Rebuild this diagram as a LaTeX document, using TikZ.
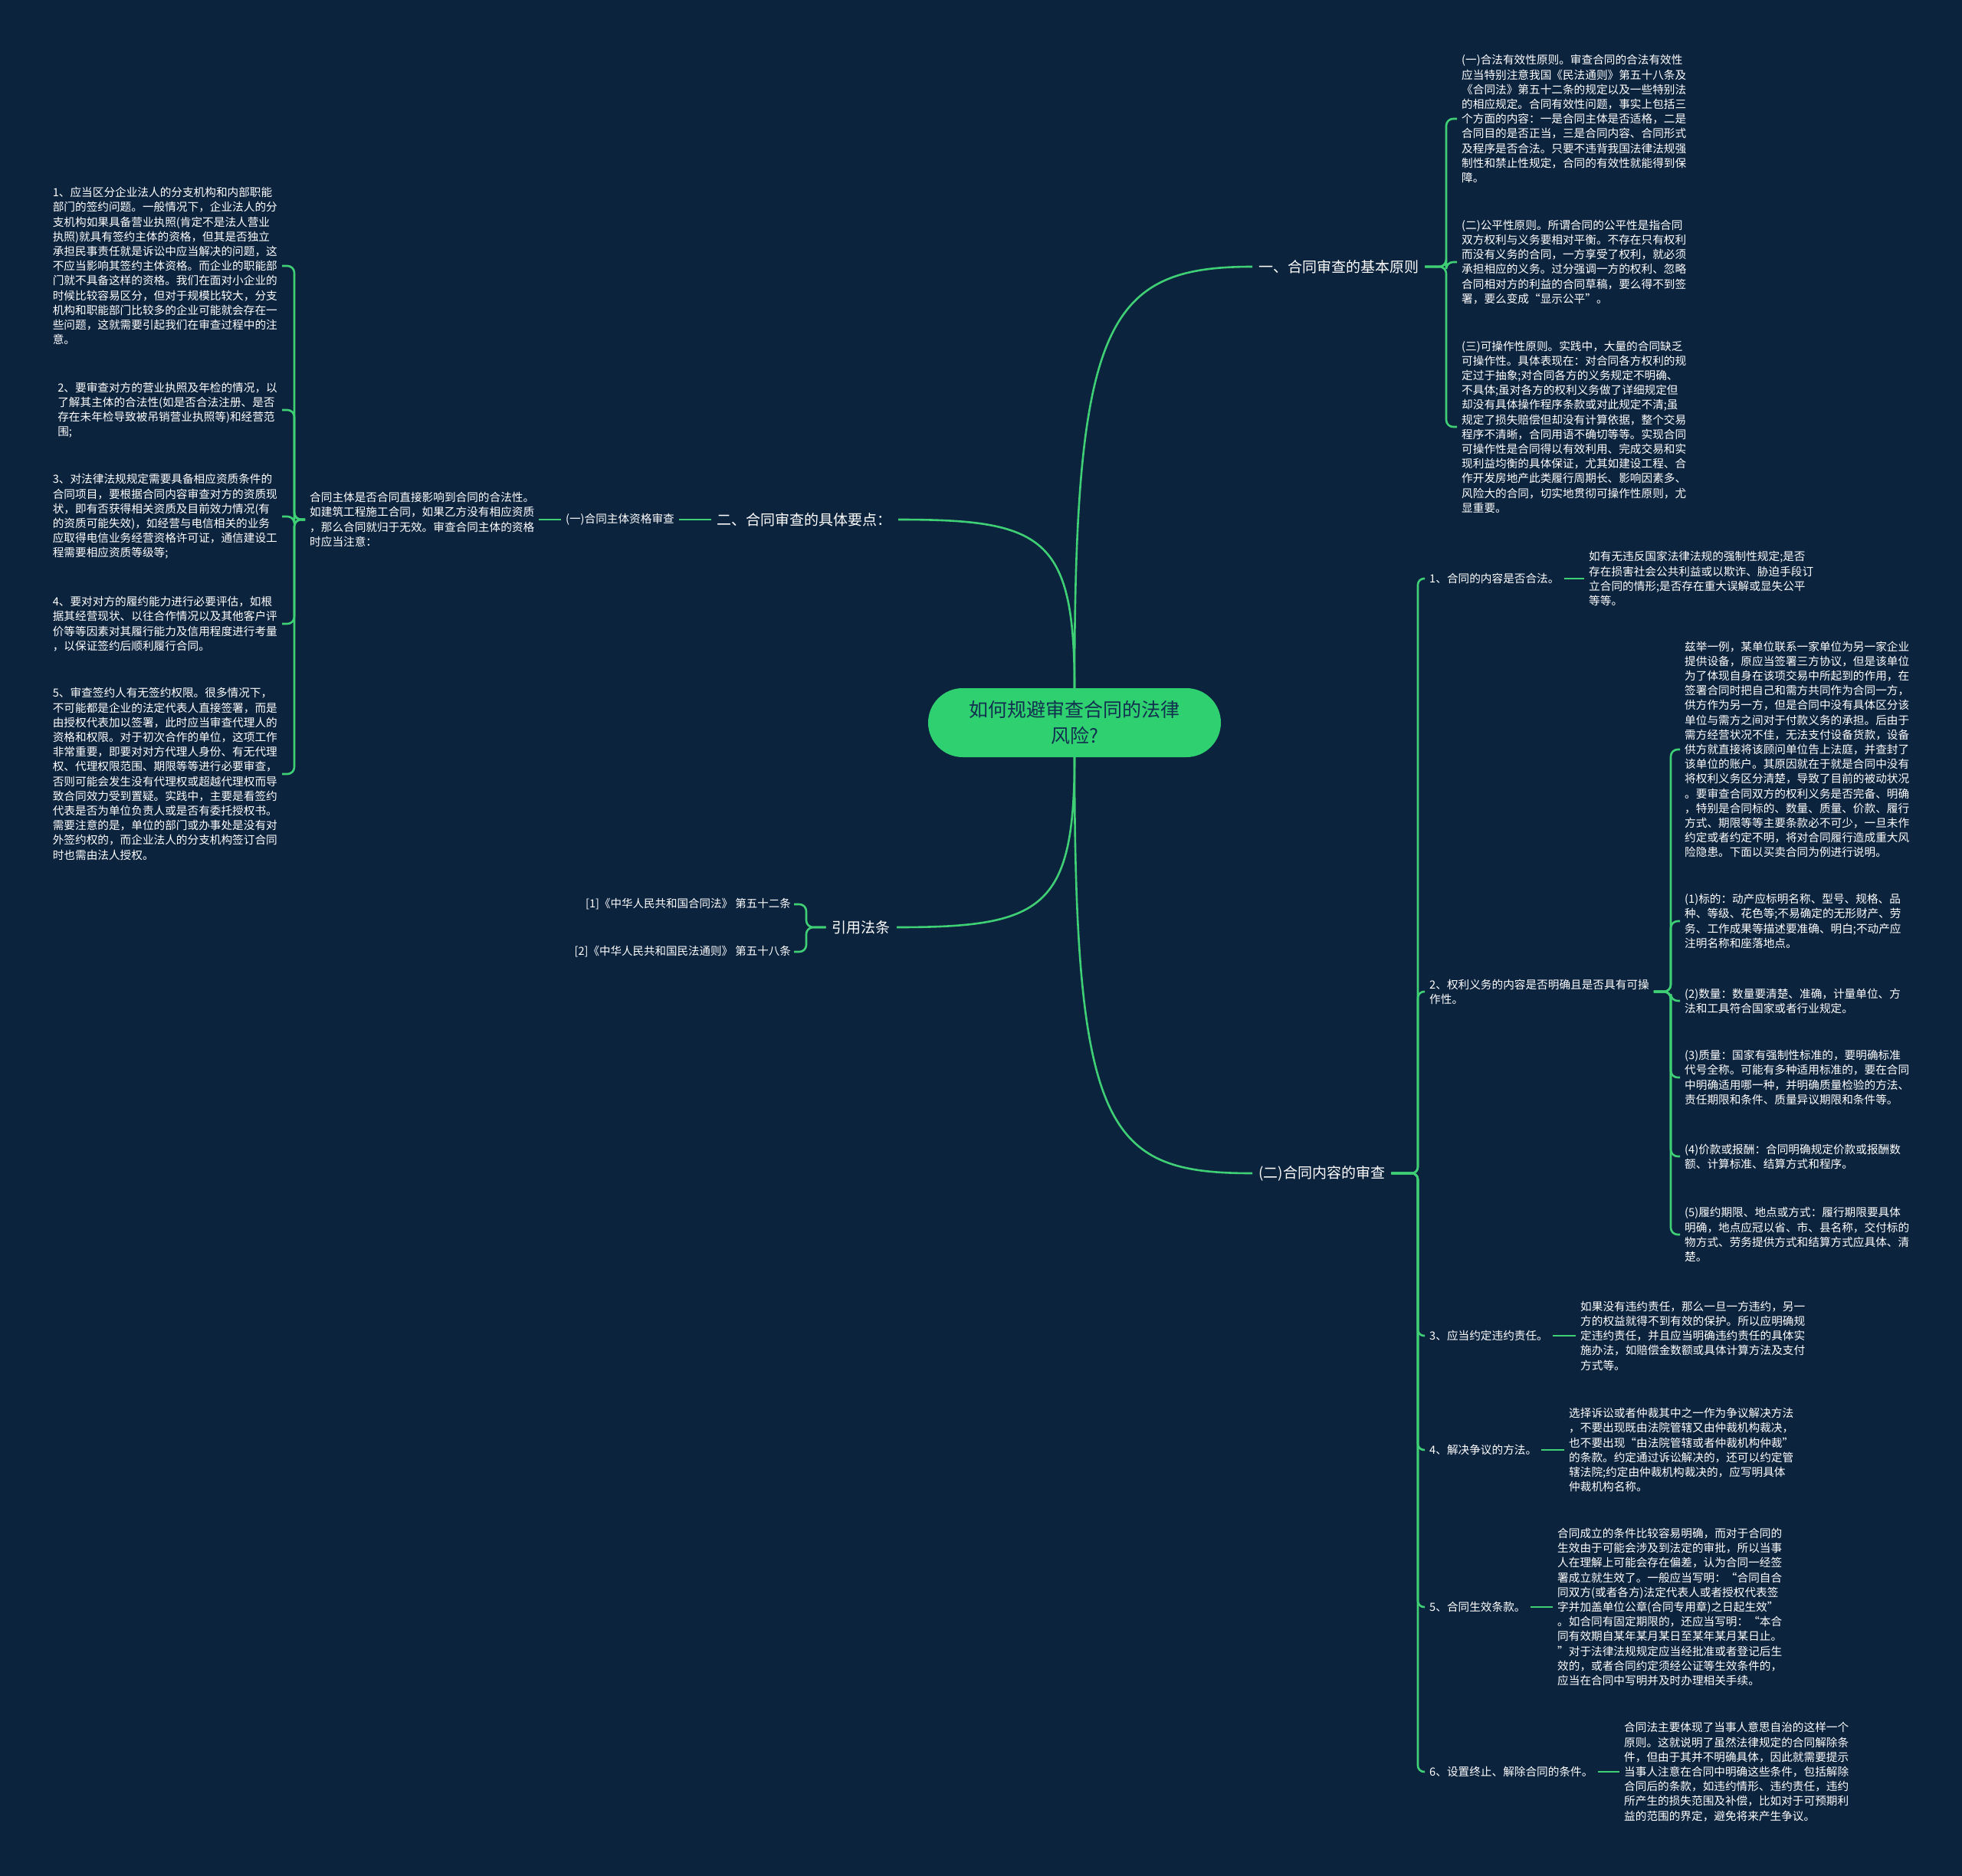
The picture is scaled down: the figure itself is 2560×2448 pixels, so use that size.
\documentclass[tikz,border=0pt]{standalone}
\usepackage{fontspec}
\setmainfont{Noto Sans CJK SC}
\definecolor{bgc}{HTML}{0C233E}
\definecolor{lnc}{HTML}{3FCF75}
\definecolor{ctrc}{HTML}{2FD06F}
\definecolor{ctrtxt}{HTML}{123050}
\begin{document}
\begin{tikzpicture}[x=1pt,y=-1pt,
  conn/.style={draw=lnc, line width=2.6pt},
  brk/.style={conn, rounded corners=9pt},
  lvone/.style={text=white, font=\fontsize{19}{23}\selectfont, inner xsep=8pt, inner ysep=4pt},
  para/.style={text=white, font=\fontsize{14.65}{19.2}\selectfont, align=left, inner xsep=6pt, inner ysep=2pt},
  refs/.style={text=white, font=\fontsize{14.5}{18}\selectfont, inner xsep=4pt, inner ysep=2pt}
]
\path[use as bounding box] (0,0) rectangle (2560,2448);
\fill[bgc] (0,0) rectangle (2560,2448);

% centre
\node[fill=ctrc, rounded corners=45pt, minimum width=382pt, minimum height=90pt,
      text=ctrtxt, align=center, font=\fontsize{25}{34}\selectfont] (ctr) at (1402,943)
      {如何规避审查合同的法律\\风险?};

% level one
\node[lvone, anchor=west] (b1) at (1634,348) {一、合同审查的基本原则};
\node[lvone, anchor=east] (b2) at (1172,678) {二、合同审查的具体要点：};
\node[lvone, anchor=east] (b3) at (1170,1210) {引用法条};
\node[lvone, anchor=west] (b4) at (1634,1531) {(二)合同内容的审查};

\draw[conn] (ctr.north) .. controls (1402,420) and (1445,348) .. (b1.west);
\draw[conn] (ctr.north) .. controls (1402,699) and (1360,678) .. (b2.east);
\draw[conn] (ctr.south) .. controls (1402,1187) and (1360,1210) .. (b3.east);
\draw[conn] (ctr.south) .. controls (1402,1478) and (1445,1531) .. (b4.west);

% ---- branch 1 children
\node[para, anchor=west] (p1) at (1901,155) {(一)合法有效性原则。审查合同的合法有效性\\应当特别注意我国《民法通则》第五十八条及\\《合同法》第五十二条的规定以及一些特别法\\的相应规定。合同有效性问题，事实上包括三\\个方面的内容：一是合同主体是否适格，二是\\合同目的是否正当，三是合同内容、合同形式\\及程序是否合法。只要不违背我国法律法规强\\制性和禁止性规定，合同的有效性就能得到保\\障。};
\node[para, anchor=west] (p2) at (1901,342) {(二)公平性原则。所谓合同的公平性是指合同\\双方权利与义务要相对平衡。不存在只有权利\\而没有义务的合同，一方享受了权利，就必须\\承担相应的义务。过分强调一方的权利、忽略\\合同相对方的利益的合同草稿，要么得不到签\\署，要么变成“显示公平”。};
\node[para, anchor=west] (p3) at (1901,557) {(三)可操作性原则。实践中，大量的合同缺乏\\可操作性。具体表现在：对合同各方权利的规\\定过于抽象;对合同各方的义务规定不明确、\\不具体;虽对各方的权利义务做了详细规定但\\却没有具体操作程序条款或对此规定不清;虽\\规定了损失赔偿但却没有计算依据，整个交易\\程序不清晰，合同用语不确切等等。实现合同\\可操作性是合同得以有效利用、完成交易和实\\现利益均衡的具体保证，尤其如建设工程、合\\作开发房地产此类履行周期长、影响因素多、\\风险大的合同，切实地贯彻可操作性原则，尤\\显重要。};
\coordinate (kb1) at (1887,348);
\foreach \c in {p1,p2,p3} \draw[brk] (b1.east) -- (kb1) |- (\c.west);

% ---- branch 2
\node[para, anchor=east] (s1) at (886,678) {(一)合同主体资格审查};
\node[para, anchor=west] (m) at (398,678) {合同主体是否合同直接影响到合同的合法性。\\如建筑工程施工合同，如果乙方没有相应资质\\，那么合同就归于无效。审查合同主体的资格\\时应当注意：};
\draw[conn] (b2.west) -- (s1.east);
\draw[conn] (s1.west) -- (m.east);

\node[para, anchor=east] (l1) at (368,347) {1、应当区分企业法人的分支机构和内部职能\\部门的签约问题。一般情况下，企业法人的分\\支机构如果具备营业执照(肯定不是法人营业\\执照)就具有签约主体的资格，但其是否独立\\承担民事责任就是诉讼中应当解决的问题，这\\不应当影响其签约主体资格。而企业的职能部\\门就不具备这样的资格。我们在面对小企业的\\时候比较容易区分，但对于规模比较大，分支\\机构和职能部门比较多的企业可能就会存在一\\些问题，这就需要引起我们在审查过程中的注\\意。};
\node[para, anchor=east] (l2) at (368,535) {2、要审查对方的营业执照及年检的情况，以\\了解其主体的合法性(如是否合法注册、是否\\存在未年检导致被吊销营业执照等)和经营范\\围;};
\node[para, anchor=east] (l3) at (368,674) {3、对法律法规规定需要具备相应资质条件的\\合同项目，要根据合同内容审查对方的资质现\\状，即有否获得相关资质及目前效力情况(有\\的资质可能失效)，如经营与电信相关的业务\\应取得电信业务经营资格许可证，通信建设工\\程需要相应资质等级等;};
\node[para, anchor=east] (l4) at (368,814) {4、要对对方的履约能力进行必要评估，如根\\据其经营现状、以往合作情况以及其他客户评\\价等等因素对其履行能力及信用程度进行考量\\，以保证签约后顺利履行合同。};
\node[para, anchor=east] (l5) at (368,1010) {5、审查签约人有无签约权限。很多情况下，\\不可能都是企业的法定代表人直接签署，而是\\由授权代表加以签署，此时应当审查代理人的\\资格和权限。对于初次合作的单位，这项工作\\非常重要，即要对对方代理人身份、有无代理\\权、代理权限范围、期限等等进行必要审查，\\否则可能会发生没有代理权或超越代理权而导\\致合同效力受到置疑。实践中，主要是看签约\\代表是否为单位负责人或是否有委托授权书。\\需要注意的是，单位的部门或办事处是没有对\\外签约权的，而企业法人的分支机构签订合同\\时也需由法人授权。};
\coordinate (km) at (384,678);
\foreach \c in {l1,l2,l3,l4,l5} \draw[brk] (m.west) -- (km) |- (\c.east);

% ---- branch 3
\node[refs, anchor=east] (r1) at (1036,1180) {[1]《中华人民共和国合同法》 第五十二条};
\node[refs, anchor=east] (r2) at (1036,1242) {[2]《中华人民共和国民法通则》 第五十八条};
\coordinate (kb3) at (1052,1210);
\foreach \c in {r1,r2} \draw[brk] (b3.west) -- (kb3) |- (\c.east);

% ---- branch 4
\node[para, anchor=west] (c1) at (1859,755) {1、合同的内容是否合法。};
\node[para, anchor=west] (c2) at (1859,1294) {2、权利义务的内容是否明确且是否具有可操\\作性。};
\node[para, anchor=west] (c3) at (1859,1743) {3、应当约定违约责任。};
\node[para, anchor=west] (c4) at (1859,1892) {4、解决争议的方法。};
\node[para, anchor=west] (c5) at (1859,2097) {5、合同生效条款。};
\node[para, anchor=west] (c6) at (1859,2312) {6、设置终止、解除合同的条件。};
\coordinate (kb4) at (1850,1531);
\foreach \c in {c1,c2,c3,c4,c5,c6} \draw[conn, rounded corners=8pt] (b4.east) -- (kb4) |- (\c.west);

\node[para, anchor=west] (c1p) at (2067,755) {如有无违反国家法律法规的强制性规定;是否\\存在损害社会公共利益或以欺诈、胁迫手段订\\立合同的情形;是否存在重大误解或显失公平\\等等。};
\draw[conn] (c1.east) -- (c1p.west);

\node[para, anchor=west] (c2a) at (2192,978) {兹举一例，某单位联系一家单位为另一家企业\\提供设备，原应当签署三方协议，但是该单位\\为了体现自身在该项交易中所起到的作用，在\\签署合同时把自己和需方共同作为合同一方，\\供方作为另一方，但是合同中没有具体区分该\\单位与需方之间对于付款义务的承担。后由于\\需方经营状况不佳，无法支付设备货款，设备\\供方就直接将该顾问单位告上法庭，并查封了\\该单位的账户。其原因就在于就是合同中没有\\将权利义务区分清楚，导致了目前的被动状况\\。要审查合同双方的权利义务是否完备、明确\\，特别是合同标的、数量、质量、价款、履行\\方式、期限等等主要条款必不可少，一旦未作\\约定或者约定不明，将对合同履行造成重大风\\险隐患。下面以买卖合同为例进行说明。};
\node[para, anchor=west] (c2b) at (2192,1202) {(1)标的：动产应标明名称、型号、规格、品\\种、等级、花色等;不易确定的无形财产、劳\\务、工作成果等描述要准确、明白;不动产应\\注明名称和座落地点。};
\node[para, anchor=west] (c2c) at (2192,1306) {(2)数量：数量要清楚、准确，计量单位、方\\法和工具符合国家或者行业规定。};
\node[para, anchor=west] (c2d) at (2192,1406) {(3)质量：国家有强制性标准的，要明确标准\\代号全称。可能有多种适用标准的，要在合同\\中明确适用哪一种，并明确质量检验的方法、\\责任期限和条件、质量异议期限和条件等。};
\node[para, anchor=west] (c2e) at (2192,1509) {(4)价款或报酬：合同明确规定价款或报酬数\\额、计算标准、结算方式和程序。};
\node[para, anchor=west] (c2f) at (2192,1611) {(5)履约期限、地点或方式：履行期限要具体\\明确，地点应冠以省、市、县名称，交付标的\\物方式、劳务提供方式和结算方式应具体、清\\楚。};
\coordinate (kc2) at (2180,1294);
\foreach \c in {c2a,c2b,c2c,c2d,c2e,c2f} \draw[brk] (c2.east) -- (kc2) |- (\c.west);

\node[para, anchor=west] (c3p) at (2056,1743) {如果没有违约责任，那么一旦一方违约，另一\\方的权益就得不到有效的保护。所以应明确规\\定违约责任，并且应当明确违约责任的具体实\\施办法，如赔偿金数额或具体计算方法及支付\\方式等。};
\draw[conn] (c3.east) -- (c3p.west);

\node[para, anchor=west] (c4p) at (2041,1892) {选择诉讼或者仲裁其中之一作为争议解决方法\\，不要出现既由法院管辖又由仲裁机构裁决，\\也不要出现“由法院管辖或者仲裁机构仲裁”\\的条款。约定通过诉讼解决的，还可以约定管\\辖法院;约定由仲裁机构裁决的，应写明具体\\仲裁机构名称。};
\draw[conn] (c4.east) -- (c4p.west);

\node[para, anchor=west] (c5p) at (2026,2097) {合同成立的条件比较容易明确，而对于合同的\\生效由于可能会涉及到法定的审批，所以当事\\人在理解上可能会存在偏差，认为合同一经签\\署成立就生效了。一般应当写明：“合同自合\\同双方(或者各方)法定代表人或者授权代表签\\字并加盖单位公章(合同专用章)之日起生效”\\。如合同有固定期限的，还应当写明：“本合\\同有效期自某年某月某日至某年某月某日止。\\”对于法律法规规定应当经批准或者登记后生\\效的，或者合同约定须经公证等生效条件的，\\应当在合同中写明并及时办理相关手续。};
\draw[conn] (c5.east) -- (c5p.west);

\node[para, anchor=west] (c6p) at (2113,2312) {合同法主要体现了当事人意思自治的这样一个\\原则。这就说明了虽然法律规定的合同解除条\\件，但由于其并不明确具体，因此就需要提示\\当事人注意在合同中明确这些条件，包括解除\\合同后的条款，如违约情形、违约责任，违约\\所产生的损失范围及补偿，比如对于可预期利\\益的范围的界定，避免将来产生争议。};
\draw[conn] (c6.east) -- (c6p.west);
\end{tikzpicture}
\end{document}
